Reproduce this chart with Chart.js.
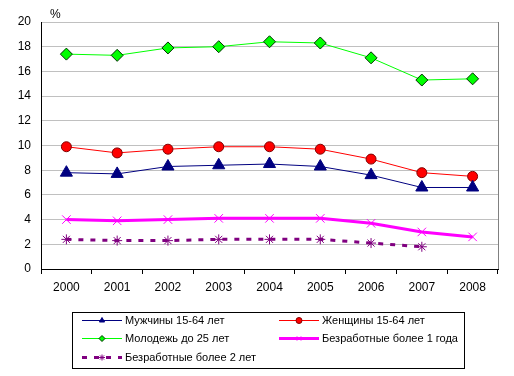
<!DOCTYPE html>
<html>
<head>
<meta charset="utf-8">
<script src="https://cdn.jsdelivr.net/npm/chart.js@4/dist/chart.umd.min.js"></script>
<style>
  body { margin: 0; background: #fff; }
  #wrap { position: relative; width: 514px; height: 376px; }
</style>
</head>
<body>
<div id="wrap"><canvas id="graph1"></canvas></div>
<script>
let years = ["2000", "2001", "2002", "2003", "2004", "2005", "2006", "2007", "2008"];

let men = [7.8, 7.7, 8.3, 8.4, 8.5, 8.3, 7.6, 6.6, 6.6];
let women = [9.9, 9.4, 9.7, 9.9, 9.9, 9.7, 8.9, 7.8, 7.5];
let youth = [17.4, 17.3, 17.9, 18.0, 18.4, 18.3, 17.1, 15.3, 15.4];
let longTerm1 = [4.0, 3.9, 4.0, 4.1, 4.1, 4.1, 3.7, 3.0, 2.6];
let longTerm2 = [2.4, 2.3, 2.3, 2.4, 2.4, 2.4, 2.1, 1.8, null];

let yTicks = [0, 2, 4, 6, 8, 10, 12, 14, 16, 18, 20];

const font = "'Liberation Sans', Arial, sans-serif";

const dataGraph1 = {
  labels: years,
  datasets: [
    {
      label: 'Мужчины 15-64 лет',
      data: men,
      borderColor: '#000080',
      backgroundColor: '#000080',
      borderWidth: 1,
      pointStyle: 'triangle',
      pointRadius: 7,
      pointBorderWidth: 1,
      legendCol: 0, legendRow: 0
    },
    {
      label: 'Женщины 15-64 лет',
      data: women,
      borderColor: '#FF0000',
      backgroundColor: '#FF0000',
      pointBorderColor: '#800000',
      borderWidth: 1,
      pointStyle: 'circle',
      pointRadius: 5,
      pointBorderWidth: 1,
      legendCol: 1, legendRow: 0
    },
    {
      label: 'Молодежь до 25 лет',
      data: youth,
      borderColor: '#00FF00',
      backgroundColor: '#00FF00',
      pointBorderColor: '#003000',
      borderWidth: 1,
      pointStyle: 'rectRot',
      pointRadius: 6,
      pointBorderWidth: 1,
      legendCol: 0, legendRow: 1
    },
    {
      label: 'Безработные более 1 года',
      data: longTerm1,
      borderColor: '#FF00FF',
      backgroundColor: '#FF00FF',
      borderWidth: 3,
      pointStyle: 'crossRot',
      pointRadius: 6,
      pointBorderWidth: 1,
      legendCol: 1, legendRow: 1
    },
    {
      label: 'Безработные более 2 лет',
      data: longTerm2,
      borderColor: '#800080',
      backgroundColor: '#800080',
      borderWidth: 3,
      borderDash: [5, 7],
      pointStyle: 'star',
      pointRadius: 5,
      pointBorderWidth: 1,
      legendCol: 0, legendRow: 2
    }
  ]
};

// "%" above the axis plus the boxed two-column legend
const extras = {
  id: 'extras',
  afterDraw(chart) {
    const ctx = chart.ctx;
    const area = chart.chartArea;
    ctx.save();
    ctx.fillStyle = '#000';
    ctx.font = '12px ' + font;
    ctx.textBaseline = 'middle';
    ctx.fillText('%', area.left + 9, area.top - 7);

    ctx.strokeStyle = '#000';
    ctx.lineWidth = 1;
    ctx.strokeRect(72.5, 312.5, 392, 56);

    const colX = [82, 279];
    const rowY = [320, 338, 357];
    ctx.font = '11px ' + font;
    chart.data.datasets.forEach(ds => {
      const x = colX[ds.legendCol];
      const y = rowY[ds.legendRow];
      ctx.save();
      ctx.strokeStyle = ds.borderColor;
      ctx.lineWidth = ds.borderWidth;
      ctx.setLineDash(ds.borderDash || []);
      ctx.beginPath();
      ctx.moveTo(x, y + 0.5);
      ctx.lineTo(x + 40, y + 0.5);
      ctx.stroke();
      ctx.setLineDash([]);
      ctx.fillStyle = ds.backgroundColor;
      ctx.strokeStyle = ds.pointBorderColor || ds.borderColor;
      ctx.lineWidth = 1;
      Chart.helpers.drawPoint(ctx, {
        pointStyle: ds.pointStyle, radius: 3, rotation: 0, borderWidth: 1
      }, x + 20, y + 0.5);
      ctx.restore();
      ctx.fillStyle = '#000';
      ctx.fillText(ds.label, x + 43, y + 1);
    });
    ctx.restore();
  }
};

const configGraph1 = {
  type: 'line',
  data: dataGraph1,
  options: {
    responsive: false,
    animation: false,
    layout: { padding: { left: 0, right: 16, top: 22, bottom: 77 } },
    plugins: {
      legend: { display: false },
      tooltip: { enabled: false }
    },
    scales: {
      x: {
        offset: true,
        grid: {
          offset: true,
          drawOnChartArea: false,
          drawTicks: true,
          tickLength: 5,
          color: '#000'
        },
        border: { color: '#000', width: 1 },
        ticks: { color: '#000', font: { family: font, size: 12 }, padding: 6, maxRotation: 0 },
        afterFit(scale) { scale.height = 30; }
      },
      y: {
        min: 0,
        max: 20,
        afterBuildTicks(scale) { scale.ticks = yTicks.map(v => ({ value: v })); },
        grid: { color: '#C0C0C0', drawTicks: false },
        border: { color: '#000', width: 1 },
        ticks: { color: '#000', font: { family: font, size: 12 }, padding: 10 },
        afterFit(scale) { scale.width = 41; }
      }
    }
  },
  plugins: [extras, {
    id: 'rightEdge',
    beforeDatasetsDraw(chart) {
      const a = chart.chartArea;
      const ctx = chart.ctx;
      ctx.save();
      ctx.strokeStyle = '#808080';
      ctx.lineWidth = 1;
      ctx.beginPath();
      ctx.moveTo(Math.round(a.right) + 0.5, a.top);
      ctx.lineTo(Math.round(a.right) + 0.5, a.bottom);
      ctx.stroke();
      ctx.restore();
    }
  }]
};

let canvas = document.getElementById("graph1");
canvas.width = 514;
canvas.height = 376;
let graph1Visible = new Chart(canvas, configGraph1);
</script>
</body>
</html>
